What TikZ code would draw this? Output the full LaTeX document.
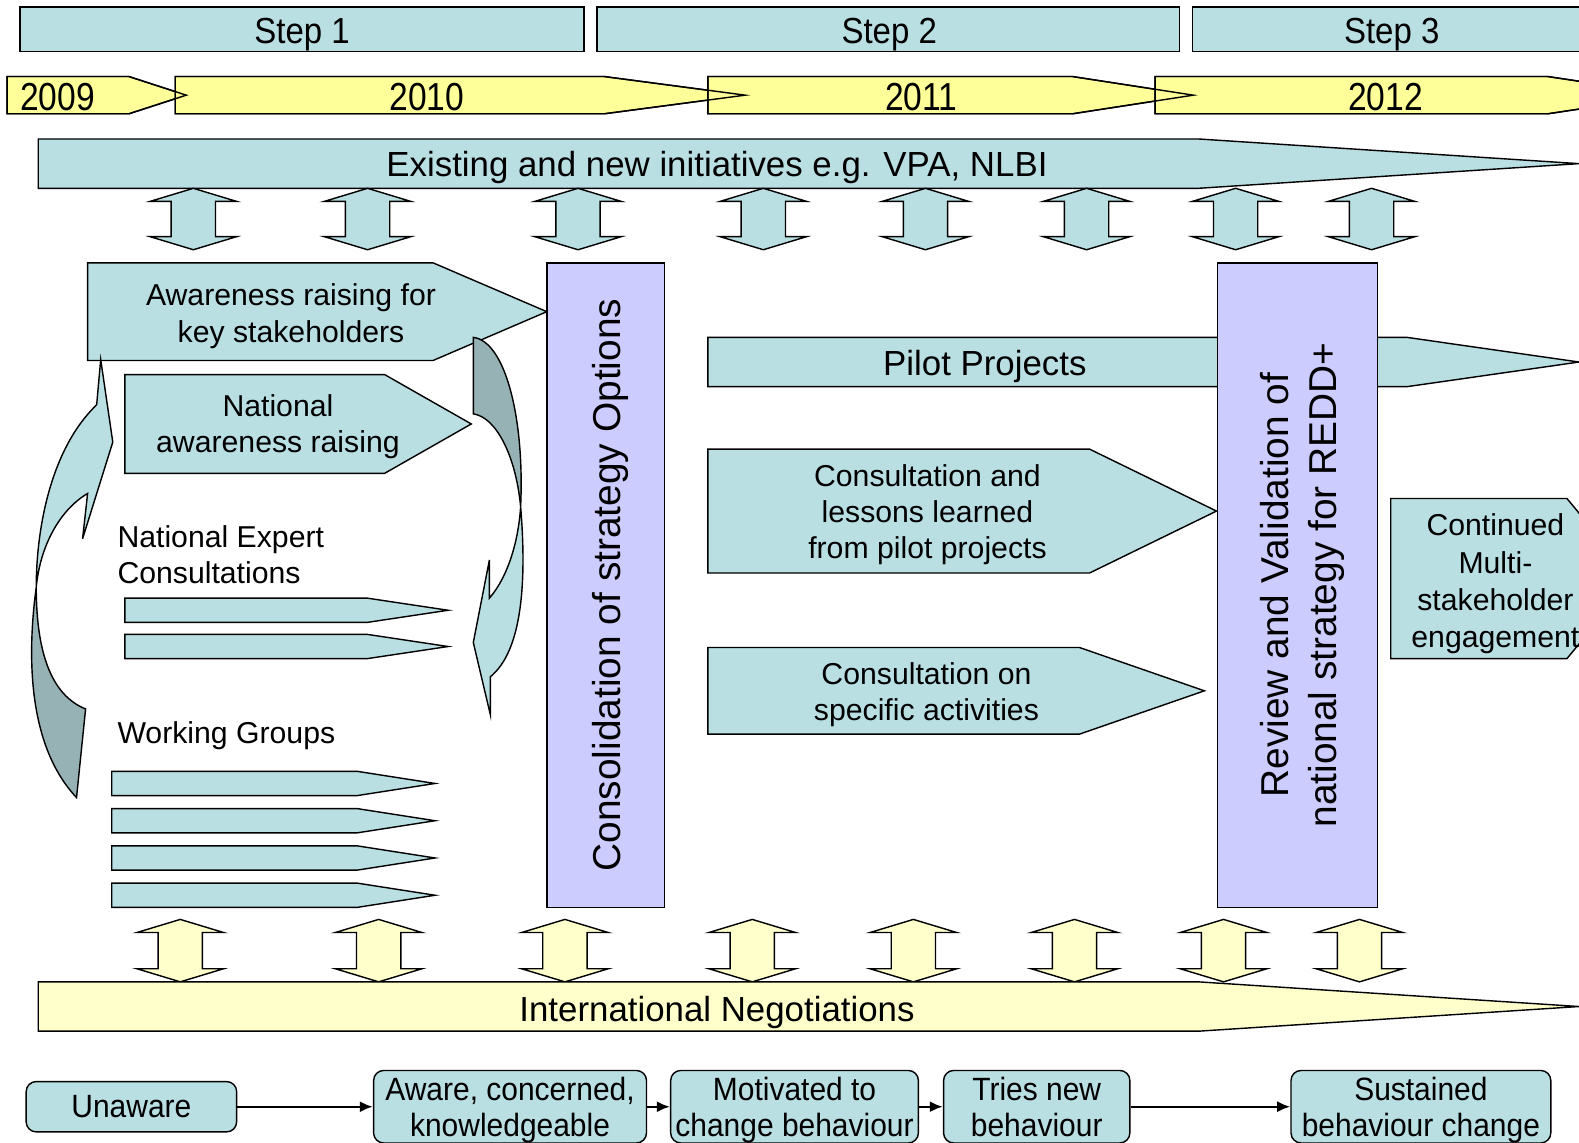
\documentclass[tikz,border=0pt]{standalone}
\usepackage{fontspec}
\setmainfont{Liberation Sans}
\newfontfamily\stepfont[FakeStretch=0.91]{Liberation Sans}
\newfontfamily\yearfont[FakeStretch=0.86]{Liberation Sans}
\newfontfamily\stagefont[FakeStretch=0.93]{Liberation Sans}
\usetikzlibrary{arrows.meta}
\definecolor{aqua}{RGB}{185,223,227}
\definecolor{aquadark}{RGB}{150,178,181}
\definecolor{lavender}{RGB}{204,204,255}
\definecolor{yearyellow}{RGB}{255,255,153}
\definecolor{paleyellow}{RGB}{255,255,204}
% block arrow: style, left, top, end of body, bottom, tip
\newcommand{\blockarrow}[6]{%
  \draw[#1] (#2,#3) -- (#4,#3) -- (#6,{(#3+#5)/2}) -- (#4,#5) -- (#2,#5) -- cycle;
}
% two-headed vertical arrow: style, centre, top, bottom
\newcommand{\updown}[4]{%
  \draw[#1] (#2,#3) -- ++(43,13) -- ++(-21,0) -- ({#2+22},{#4-13}) -- ++(21,0)
    -- (#2,#4) -- ++(-43,-13) -- ++(21,0) -- ({#2-22},{#3+13}) -- ++(-21,0) -- cycle;
}
\begin{document}
\begin{tikzpicture}[x=0.5pt, y=-0.5pt, line width=0.7pt,
    every node/.style={inner sep=0pt},
    aquashape/.style={draw, fill=aqua},
    yearshape/.style={fill=yearyellow},
    paleshape/.style={draw, fill=paleyellow},
    backface/.style={draw, fill=aquadark},
    txt/.style={align=center, font=\fontsize{15}{18}\selectfont},
    bigtxt/.style={font=\fontsize{17.3}{20}\selectfont},
    steptxt/.style={anchor=base, font=\stepfont\fontsize{18}{20}\selectfont},
    yeartxt/.style={anchor=base, font=\yearfont\fontsize{19.4}{20}\selectfont},
    vtxt/.style={rotate=90, align=center, font=\fontsize{19.3}{24}\selectfont},
    stepbox/.style={draw, fill=aqua, minimum height=22pt},
    vbox/.style={draw, fill=lavender, minimum height=320pt},
    stage/.style={draw, fill=aqua, rounded corners=5pt, minimum height=36pt},
    stagetxt/.style={align=center, font=\stagefont\fontsize{16}{18}\selectfont,
      execute at end node={\rule[-5.25pt]{0pt}{5.25pt}}},
    flow/.style={-{Latex[length=6.5pt,width=5.5pt]}, line width=1.2pt}
  ]
  \useasboundingbox (0,0) rectangle (1568,1135);
  \clip (0,0) rectangle (1568,1135);

  % steps and years
  \node[stepbox, minimum width=280pt] (step1) at (300,29) {};
  \node[stepbox, minimum width=289pt] (step2) at (882,29) {};
  \node[stepbox, minimum width=198pt] (step3) at (1382,29) {};
  \node[steptxt] (step1txt) at (300,43) {Step 1};
  \node[steptxt] (step2txt) at (883,43) {Step 2};
  \node[steptxt] (step3txt) at (1382,43) {Step 3};
  \foreach \l/\e/\t in {7/128/185, 174/600/740, 703/1065/1185, 1147/1537/1660}
    \blockarrow{yearshape}{\l}{76}{\e}{113}{\t};
  \foreach \l/\e/\t in {7/128/185, 174/600/740, 703/1065/1185, 1147/1537/1660}
    \blockarrow{draw}{\l}{76}{\e}{113}{\t};
  \node[yeartxt] (y2009) at (57,110) {2009};
  \node[yeartxt] (y2010) at (424,110) {2010};
  \node[yeartxt] (y2011) at (915,110) {2011};
  \node[yeartxt] (y2012) at (1376,110) {2012};

  % initiatives
  \blockarrow{aquashape}{38}{138}{1190}{187}{1568}
  \node[bigtxt] (initiatives) at (712,166) {Existing and new initiatives e.g. VPA, NLBI};
  \foreach \x in {192,365,574,758,919,1079,1227,1362}
    \updown{aquashape}{\x}{187}{248};

  % step 1
  \blockarrow{aquashape}{87}{261}{430}{358}{543}
  \node[txt] (keyaware) at (289,314) {Awareness raising for\\key stakeholders};
  \blockarrow{aquashape}{124}{372}{382}{470}{468}
  \node[txt] (nataware) at (276,424) {National\\awareness raising};
  \node[txt, align=left, anchor=west] (expert) at (116,550.5) {National Expert\\Consultations};
  \foreach \y in {594,630}
    \blockarrow{aquashape}{124}{\y}{365}{\y+24}{445};
  \node[txt, anchor=west] (groups) at (116,731) {Working Groups};
  \foreach \y in {766,803,840,877}
    \blockarrow{aquashape}{111}{\y}{355}{\y+24}{432};

  % curved arrows
  \draw[aquashape] (100,357) -- (112,439) -- (82,535) -- (87,490)
    .. controls (60,506) and (40,541) .. (36,583)
    .. controls (36,526) and (50,446) .. (96,402) -- cycle;
  \draw[backface] (36,583) .. controls (27,650) and (27,740) .. (76,792)
    -- (85,704) .. controls (50,690) and (36,646) .. (36,583) -- cycle;
  \draw[backface] (470,335) -- (470,411) .. controls (492,414) and (512,451) .. (517,503)
    .. controls (521,416) and (502,339) .. (470,335) -- cycle;
  \draw[aquashape] (486,556) -- (470,638) -- (487,710) -- (487,672)
    .. controls (519,646) and (523,576) .. (517,503)
    .. controls (515,536) and (505,572) .. (486,594) -- cycle;

  \node[vbox, minimum width=58.5pt] (consol) at (601.5,581) {};
  \node[vtxt] (consoltxt) at (606,581) {Consolidation of strategy Options};

  % step 2
  \blockarrow{aquashape}{703}{335}{1397}{384}{1568}
  \node[bigtxt] (pilot) at (978,364) {Pilot Projects};
  \blockarrow{aquashape}{703}{446}{1082}{569}{1208}
  \node[txt] (lessons) at (921,511) {Consultation and\\lessons learned\\from pilot projects};
  \blockarrow{aquashape}{703}{643}{1072}{729}{1196}
  \node[txt] (specific) at (920,690) {Consultation on\\specific activities};

  % step 3
  \node[vbox, minimum width=79.5pt] (review) at (1288.5,581) {};
  \node[vtxt] (reviewtxt) at (1293.5,581)
    {Review and Validation of\\national strategy for REDD+};
  \blockarrow{aquashape}{1381}{495}{1556}{654}{1622}
  \node[txt, font=\fontsize{15}{18.5}\selectfont] (continued) at (1485,580)
    {Continued\\Multi-\\stakeholder\\engagement};

  % negotiations
  \foreach \x in {179,376,561,747,907,1067,1215,1350}
    \updown{paleshape}{\x}{913}{975};
  \blockarrow{paleshape}{38}{975}{1190}{1024}{1568}
  \node[bigtxt] (negotiations) at (712,1005) {International Negotiations};

  % behaviour change
  \node[stage, minimum width=104.5pt, minimum height=25pt] (unaware) at (130.5,1099) {};
  \node[stage, minimum width=135.5pt] (aware) at (506.5,1099) {};
  \node[stage, minimum width=123pt] (motivated) at (789,1099) {};
  \node[stage, minimum width=92.5pt] (tries) at (1029.5,1099) {};
  \node[stage, minimum width=129pt] (sustained) at (1411,1099) {};
  \node[stagetxt, execute at end node={}] (unawaretxt) at (130.5,1104) {Unaware};
  \node[stagetxt] (awaretxt) at (506.5,1104.5) {Aware, concerned,\\knowledgeable};
  \node[stagetxt] (motivatedtxt) at (789,1104.5) {Motivated to\\change behaviour};
  \node[stagetxt] (triestxt) at (1029.5,1104.5) {Tries new\\behaviour};
  \node[stagetxt] (sustainedtxt) at (1411,1104.5) {Sustained\\behaviour change};
  \draw[flow] (unaware) -- (aware);
  \draw[flow] (aware) -- (motivated);
  \draw[flow] (motivated) -- (tries);
  \draw[flow] (tries) -- (sustained);
\end{tikzpicture}
\end{document}
